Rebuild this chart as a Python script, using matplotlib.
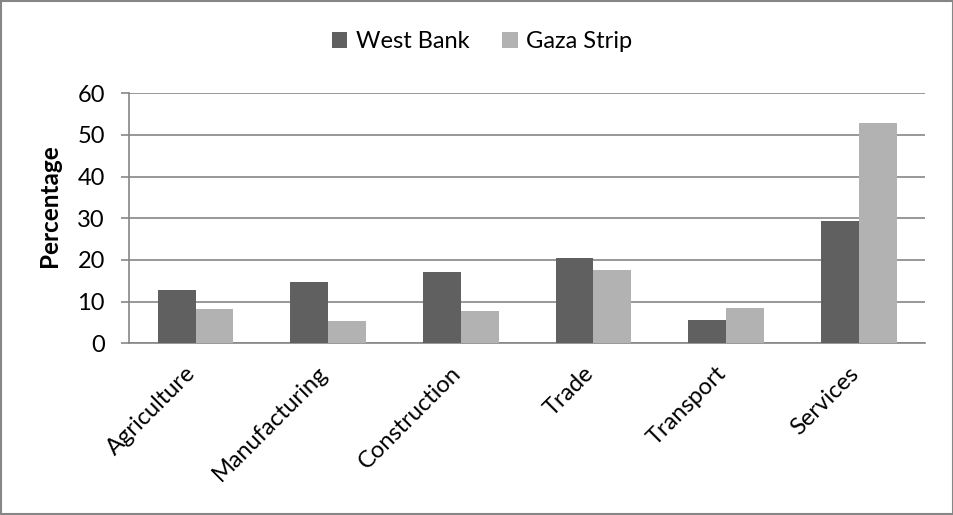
import matplotlib.pyplot as plt
import numpy as np
from matplotlib.patches import Rectangle
from matplotlib.transforms import ScaledTranslation

plt.rcParams["font.family"] = ["Lato", "DejaVu Sans"]

sectors = ["Agriculture", "Manufacturing", "Construction", "Trade", "Transport", "Services"]
west_bank = [12.8, 14.7, 17.2, 20.5, 5.6, 29.3]
gaza_strip = [8.3, 5.3, 7.7, 17.5, 8.4, 52.9]
y_ticks = [0, 10, 20, 30, 40, 50, 60]

grid_color = "#868686"

fig = plt.figure(figsize=(9.54, 5.15), dpi=100)
ax = fig.add_axes([129.3 / 954, 1 - 343.3 / 515, 795.7 / 954, 250 / 515])

x = np.arange(len(sectors))
w = 1 / 3.5
ax.bar(x - w / 2, west_bank, width=w, color="#606060", label="West Bank", zorder=3)
ax.bar(x + w / 2, gaza_strip, width=w, color="#B2B2B2", label="Gaza Strip", zorder=3)

ax.set_xlim(-0.5, len(sectors) - 0.5)
ax.set_ylim(0, 60)
ax.set_yticks(y_ticks)
ax.tick_params(axis="y", labelsize=17, length=6, color=grid_color, width=1.2, pad=11.5)
ax.tick_params(axis="x", length=0, pad=14)
ax.set_xticks(x)
ax.set_xticklabels(sectors, rotation=45, ha="right", rotation_mode="anchor", fontsize=17)
# nudge the slanted category labels a little to the left
shift = ScaledTranslation(-11 / 100, 0, fig.dpi_scale_trans)
for lbl in ax.get_xticklabels():
    lbl.set_transform(lbl.get_transform() + shift)
ax.yaxis.grid(True, color=grid_color, linewidth=1.2, zorder=0)
for side in ["top", "right"]:
    ax.spines[side].set_visible(False)
for side in ["left", "bottom"]:
    ax.spines[side].set_color(grid_color)
    ax.spines[side].set_linewidth(1.2)

fig.text(50 / 954, 1 - 206 / 515, "Percentage", rotation=90, ha="center", va="center",
         fontsize=17.5, fontweight="bold")

fig.legend(loc="center", bbox_to_anchor=(482 / 954, 1 - 42 / 515), ncol=2, frameon=False,
           fontsize=17, handlelength=0.65, handleheight=0.65, handletextpad=0.35,
           columnspacing=1.4)

# frame around the whole chart
fig.patches.append(Rectangle((1 / 954, 1 / 515), 952 / 954, 513 / 515, transform=fig.transFigure,
                             fill=False, edgecolor="#868686", linewidth=1.5))

fig.savefig("out.png", dpi=100)
